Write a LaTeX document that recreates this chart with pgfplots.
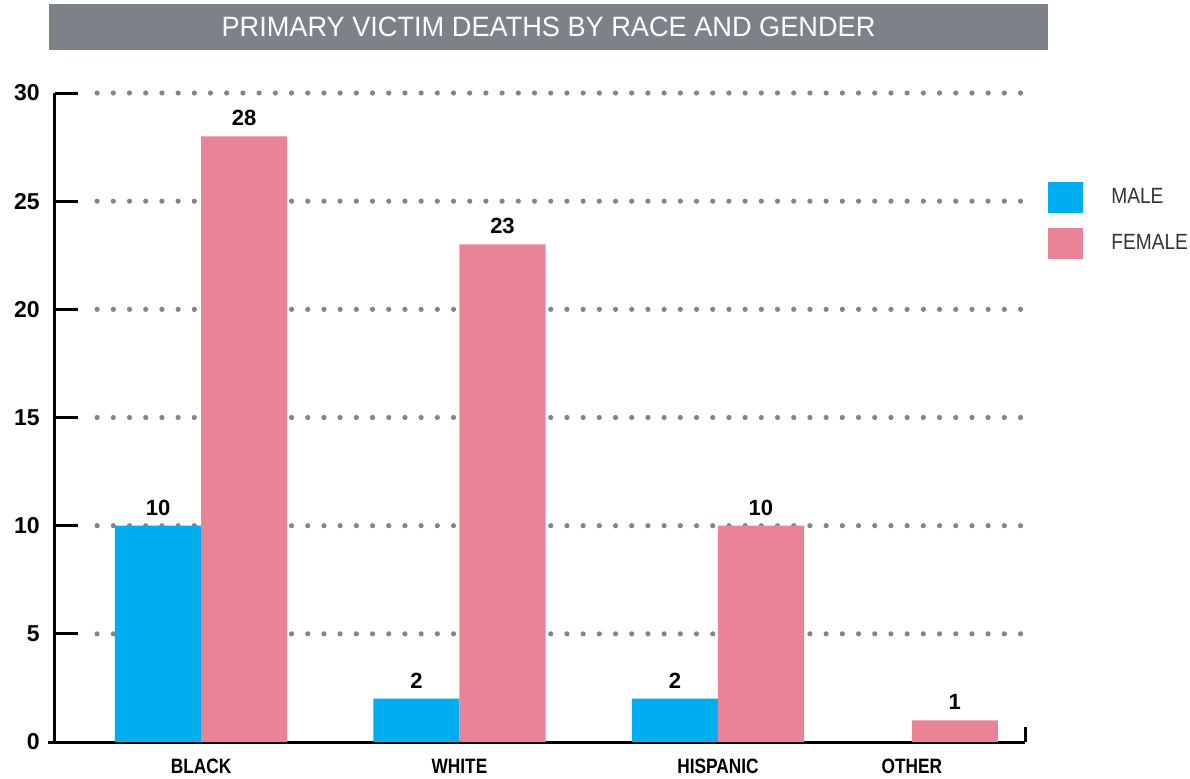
\documentclass[border=0pt]{standalone}
\usepackage{fontspec}
\setmainfont{Liberation Sans}
\newfontfamily\titlefont[FakeStretch=0.97]{Liberation Sans}
\newfontfamily\condreg[FakeStretch=0.87]{Liberation Sans}
\newfontfamily\condbold[FakeStretch=0.83]{Liberation Sans}
\usepackage{pgfplots}
\pgfplotsset{compat=1.18}
\definecolor{cmale}{HTML}{00AEEF}
\definecolor{cfemale}{HTML}{E98396}
\definecolor{ctitle}{HTML}{7D8288}
\definecolor{cdot}{HTML}{7F858A}
\begin{document}
\begin{tikzpicture}
\useasboundingbox (0,0) rectangle (595pt,-389pt);
\fill[ctitle] (24.5pt,-2pt) rectangle (524pt,-25pt);
\node[text=white, font=\titlefont\fontsize{14}{14}\selectfont] at (274.25pt,-13.5pt) {PRIMARY VICTIM DEATHS BY RACE AND GENDER};
\begin{axis}[
  at={(27.5pt,-371pt)}, anchor=south west,
  scale only axis, width=485pt, height=324.5pt,
  xmin=-0.565, xmax=3.188, ymin=0, ymax=30,
  clip=false,
  /pgf/number format/assume math mode=true,
  axis x line=bottom, axis y line=left,
  axis line style={-, line width=1.5pt, black},
  every inner x axis line/.append style={-},
  every inner y axis line/.append style={-},
  every outer x axis line/.append style={-},
  every outer y axis line/.append style={-},
  ytick={0,5,...,30},
  xtick={0,1,2,2.75},
  xticklabels={BLACK,WHITE,HISPANIC,OTHER},
  xtick style={draw=none},
  ytick style={line width=1.5pt, black},
  tick align=inside,
  major tick length=11.5pt,
  yticklabel style={anchor=east, inner sep=0pt, xshift=-7.5pt, font=\bfseries\fontsize{11.5}{11.5}\selectfont},
  xticklabel style={anchor=base, inner sep=0pt, yshift=-15.5pt, font=\condbold\bfseries\fontsize{10.4}{10.4}\selectfont},
  legend style={draw=none, fill=none, at={(1.0237,0.864)}, anchor=north west, inner sep=0pt,
    row sep=7.5pt, column sep=12pt, font=\condreg\fontsize{11}{11}\selectfont, text=black!80},
  legend cell align=left,
  every node near coord/.append style={font=\bfseries\fontsize{11}{11}\selectfont, anchor=south, inner sep=0pt, yshift=5pt, text=black},
]
\pgfplotsinvokeforeach{5,10,15,20,25,30}{
  \draw[cdot, line width=2.6pt, line cap=round, dash pattern=on 0pt off 8.1pt] (axis cs:-0.402,#1) -- (axis cs:3.188,#1);
}
\addplot[ybar, bar width=0.333, bar shift=-0.1665, fill=cmale, draw=none, nodes near coords,
  every node near coord/.append style={xshift=-21.5pt},
  legend image code/.code={\fill[cmale] (0pt,-7.75pt) rectangle (17.5pt,7.75pt);}]
  coordinates {(0,10) (1,2) (2,2)};
\addlegendentry{MALE}
\addplot[ybar, bar width=0.333, bar shift=0.1665, fill=cfemale, draw=none, nodes near coords,
  every node near coord/.append style={xshift=21.5pt},
  legend image code/.code={\fill[cfemale] (0pt,-7.75pt) rectangle (17.5pt,7.75pt);}]
  coordinates {(0,28) (1,23) (2,10) (2.75,1)};
\addlegendentry{FEMALE}
\draw[line width=1.5pt, black] (rel axis cs:1,0) -- (rel axis cs:1,0.023);
\draw[line width=1.5pt, black] (rel axis cs:0,0) -- ++(-3.5pt,0pt);
\end{axis}
\end{tikzpicture}
\end{document}
